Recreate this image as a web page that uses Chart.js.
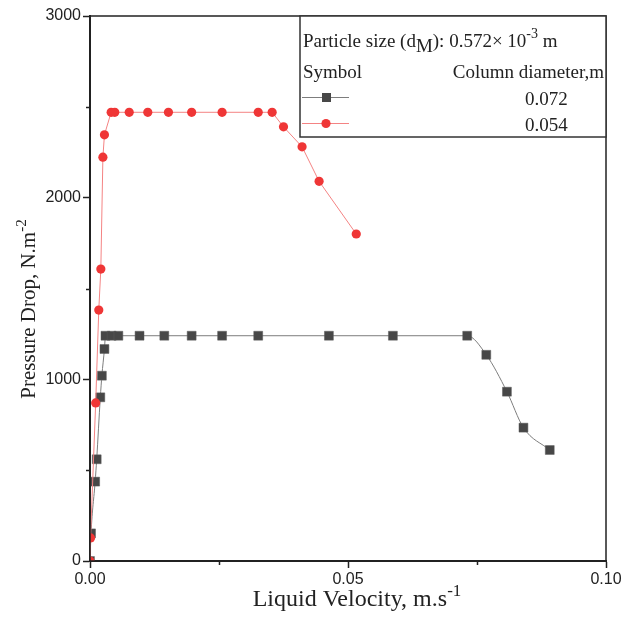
<!DOCTYPE html>
<html>
<head>
<meta charset="utf-8">
<script src="https://cdn.jsdelivr.net/npm/chart.js@4"></script>
<style>
  html, body { margin: 0; padding: 0; background: #fff; }
  #wrap { width: 624px; height: 617px; }
</style>
</head>
<body>
<div id="wrap"><canvas id="chart"></canvas></div>
<script>
// column diameter 0.072 m
const velocity072 = [0, 0.0002, 0.0010, 0.0013, 0.0020, 0.0023, 0.0028, 0.0030, 0.0042, 0.0055,
  0.0096, 0.0144, 0.0197, 0.0256, 0.0326, 0.0463, 0.0587, 0.0731, 0.0768, 0.0808, 0.0840, 0.0891];
const drop072 = [0, 152, 437, 560, 901, 1020, 1167, 1240, 1240, 1240,
  1240, 1240, 1240, 1240, 1240, 1240, 1240, 1240, 1135, 932, 734, 611];

// column diameter 0.054 m
const velocity054 = [0, 0.0001, 0.0011, 0.0017, 0.0021, 0.0025, 0.0028, 0.0041, 0.0048, 0.0076,
  0.0112, 0.0152, 0.0197, 0.0256, 0.0326, 0.0353, 0.0375, 0.0411, 0.0444, 0.0516];
const drop054 = [0, 127, 870, 1381, 1607, 2223, 2346, 2470, 2470, 2470,
  2470, 2470, 2470, 2470, 2470, 2470, 2390, 2280, 2090, 1800];

const xTickLabels = ["0.00", "0.05", "0.10"];
const yTickLabels = ["0", "1000", "2000", "3000"];
const xMinorTicks = [0.025, 0.075];
const yMinorTicks = [500, 1500, 2500];

const SERIF = '"Liberation Serif", "Times New Roman", serif';
const SANS = '"Liberation Sans", Arial, sans-serif';
const INK = "#222";

const toPoints = (xs, ys) => xs.map((x, i) => ({ x, y: ys[i] }));

// draws a run of text pieces, each with its own size and baseline shift
function richWidth(ctx, parts) {
  let w = 0;
  for (const p of parts) {
    ctx.font = `${p.size}px ${SERIF}`;
    w += ctx.measureText(p.t).width;
  }
  return w;
}
function drawRich(ctx, parts, x, y) {
  for (const p of parts) {
    ctx.font = `${p.size}px ${SERIF}`;
    ctx.fillText(p.t, x, y + (p.dy || 0));
    x += ctx.measureText(p.t).width;
  }
}

const decorations = {
  id: "decorations",
  afterDatasetsDraw(chart) {
    const { ctx, chartArea: a, scales } = chart;
    ctx.save();

    // frame round the plot
    ctx.strokeStyle = INK;
    ctx.lineWidth = 1.5;
    ctx.strokeRect(a.left, a.top, a.right - a.left, a.bottom - a.top);

    // minor ticks, pointing outwards
    ctx.lineWidth = 1.5;
    ctx.beginPath();
    for (const v of xMinorTicks) {
      const px = Math.round(scales.x.getPixelForValue(v)) + 0.5;
      ctx.moveTo(px, a.bottom);
      ctx.lineTo(px, a.bottom + 4);
    }
    for (const v of yMinorTicks) {
      const py = Math.round(scales.y.getPixelForValue(v)) + 0.5;
      ctx.moveTo(a.left, py);
      ctx.lineTo(a.left - 4, py);
    }
    ctx.stroke();

    ctx.fillStyle = INK;
    ctx.textBaseline = "alphabetic";
    ctx.textAlign = "left";

    // x axis title
    const xTitle = [
      { t: "Liquid Velocity, m.s", size: 24 },
      { t: "-1", size: 17, dy: -10 },
    ];
    const cx = (a.left + a.right) / 2 + 9;
    drawRich(ctx, xTitle, cx - richWidth(ctx, xTitle) / 2, 606);

    // y axis title
    const yTitle = [
      { t: "Pressure Drop, N.m", size: 21 },
      { t: "-2", size: 15, dy: -9 },
    ];
    ctx.save();
    ctx.translate(35, 309);
    ctx.rotate(-Math.PI / 2);
    drawRich(ctx, yTitle, -richWidth(ctx, yTitle) / 2, 0);
    ctx.restore();

    // legend box
    const lx = 300, ly = a.top, lw = a.right - 300, lh = 121;
    ctx.fillStyle = "#fff";
    ctx.fillRect(lx, ly, lw, lh);
    ctx.strokeStyle = "#333";
    ctx.lineWidth = 1.5;
    ctx.strokeRect(lx, ly, lw, lh);

    ctx.fillStyle = INK;
    drawRich(ctx, [
      { t: "Particle size (d", size: 19 },
      { t: "M", size: 19, dy: 5 },
      { t: "): 0.572\u00d7 10", size: 19 },
      { t: "-3", size: 14, dy: -9 },
      { t: " m", size: 19 },
    ], 303, 47);
    drawRich(ctx, [{ t: "Symbol", size: 19 }], 303, 78);
    ctx.textAlign = "right";
    drawRich(ctx, [{ t: "Column diameter,m", size: 19 }], 604, 78);
    ctx.textAlign = "left";

    const rows = [
      { y: 97, label: "0.072", ds: chart.data.datasets[0] },
      { y: 123, label: "0.054", ds: chart.data.datasets[1] },
    ];
    for (const r of rows) {
      ctx.strokeStyle = r.ds.borderColor;
      ctx.lineWidth = 1;
      ctx.beginPath();
      ctx.moveTo(302, r.y + 0.5);
      ctx.lineTo(349, r.y + 0.5);
      ctx.stroke();
      ctx.fillStyle = r.ds.pointBackgroundColor;
      if (r.ds.pointStyle === "rect") {
        ctx.fillRect(322, r.y - 4, 9, 9);
      } else {
        ctx.beginPath();
        ctx.arc(326, r.y + 0.5, 4.6, 0, Math.PI * 2);
        ctx.fill();
      }
      ctx.fillStyle = INK;
      drawRich(ctx, [{ t: r.label, size: 19 }], 525, r.y + 8);
    }
    ctx.restore();
  },
};

new Chart(document.getElementById("chart"), {
  type: "scatter",
  data: {
    datasets: [
      {
        label: "0.072",
        data: toPoints(velocity072, drop072),
        showLine: true,
        borderColor: "#7d7d7d",
        borderWidth: 1,
        cubicInterpolationMode: "monotone",
        pointStyle: "rect",
        pointRadius: 6.3,
        pointBackgroundColor: "#474747",
        pointBorderColor: "#5a5a5a",
        pointBorderWidth: 0.5,
        order: 2,
      },
      {
        label: "0.054",
        data: toPoints(velocity054, drop054),
        showLine: true,
        borderColor: "#f48383",
        borderWidth: 1,
        pointStyle: "circle",
        pointRadius: 4.6,
        pointBackgroundColor: "#ef3636",
        pointBorderColor: "#ef3636",
        pointBorderWidth: 0,
        order: 1,
      },
    ],
  },
  options: {
    responsive: true,
    maintainAspectRatio: false,
    animation: false,
    events: [],
    layout: { padding: { left: 0, right: 18, top: 16, bottom: 0 } },
    plugins: {
      legend: { display: false },
      tooltip: { enabled: false },
    },
    scales: {
      x: {
        type: "linear",
        min: 0,
        max: 0.1,
        afterFit: (scale) => { scale.height = 56; },
        ticks: {
          stepSize: 0.05,
          color: INK,
          font: { family: SANS, size: 16 },
          padding: 2,
          maxRotation: 0,
          callback: (v, i) => xTickLabels[i],
        },
        grid: { drawOnChartArea: false, tickLength: 7, tickColor: INK, tickWidth: 1.5 },
        border: { color: INK, width: 2 },
      },
      y: {
        type: "linear",
        min: 0,
        max: 3000,
        afterFit: (scale) => { scale.width = 90; },
        ticks: {
          stepSize: 1000,
          color: INK,
          font: { family: SANS, size: 16 },
          padding: 2,
          callback: (v, i) => yTickLabels[i],
        },
        grid: { drawOnChartArea: false, tickLength: 7, tickColor: INK, tickWidth: 1.5 },
        border: { color: INK, width: 2 },
      },
    },
  },
  plugins: [decorations],
});
</script>
</body>
</html>
